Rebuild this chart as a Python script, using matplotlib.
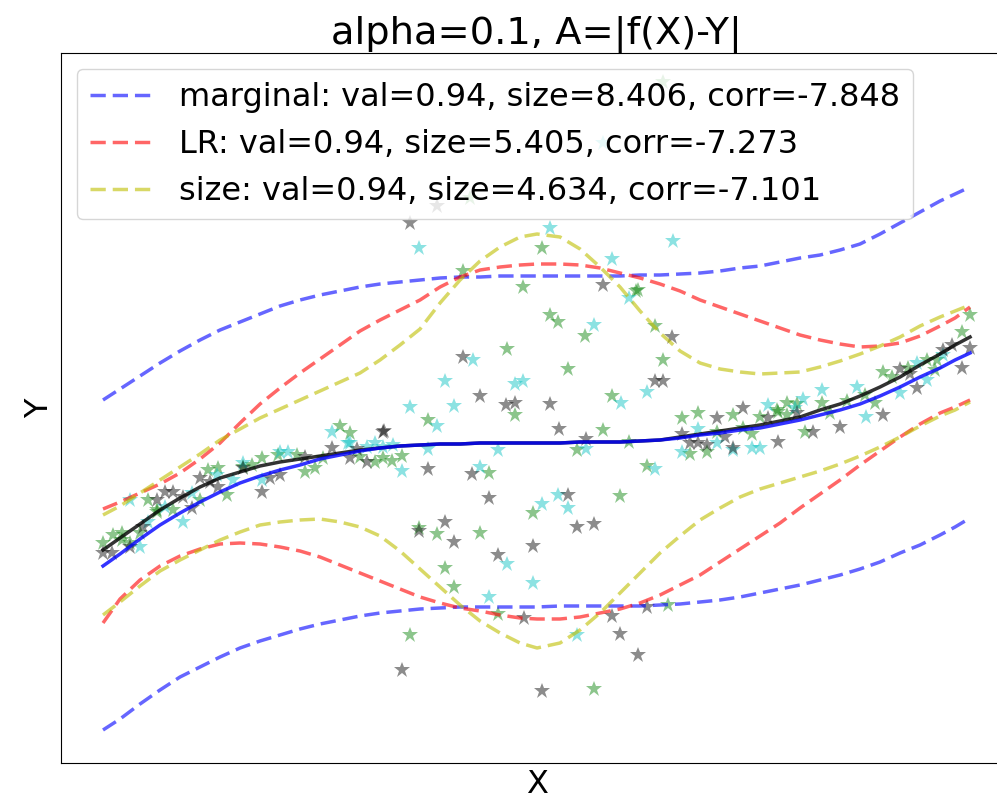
import matplotlib
matplotlib.use('Agg')
import matplotlib.pyplot as plt

# x grid the bands / fits were read at
x_grid = [-4.34, -4.17, -3.97, -3.77, -3.57, -3.37, -3.17, -2.97, -2.77, -2.57, -2.37, -2.17,
          -1.97, -1.77, -1.57, -1.37, -1.17, -0.97, -0.77, -0.57, -0.37, -0.17, 0.00, 0.23,
          0.43, 0.63, 0.83, 1.03, 1.23, 1.43, 1.63, 1.83, 2.03, 2.23, 2.43, 2.63, 2.83, 3.03,
          3.23, 3.43, 3.63, 3.83, 4.03, 4.18, 4.33]

marg_up = [0.43, 0.54, 0.67, 0.80, 0.92, 1.03, 1.13, 1.21, 1.29, 1.37, 1.43, 1.48,
           1.52, 1.56, 1.59, 1.61, 1.63, 1.65, 1.66, 1.66, 1.67, 1.67, 1.67, 1.67,
           1.67, 1.67, 1.67, 1.68, 1.68, 1.69, 1.70, 1.72, 1.75, 1.77, 1.81, 1.85, 1.88, 1.93,
           1.99, 2.09, 2.20, 2.31, 2.42, 2.49, 2.56]
marg_lo = [-2.87, -2.76, -2.61, -2.47, -2.34, -2.24, -2.14, -2.05, -1.98, -1.92, -1.86, -1.81,
           -1.77, -1.73, -1.70, -1.68, -1.66, -1.65, -1.64, -1.64, -1.64, -1.64, -1.64, -1.63,
           -1.63, -1.63, -1.63, -1.63, -1.62, -1.61, -1.59, -1.57, -1.54, -1.50, -1.46, -1.42,
           -1.37, -1.32, -1.26, -1.19, -1.10, -1.02, -0.92, -0.84, -0.75]
lr_up = [-0.66, -0.59, -0.50, -0.41, -0.30, -0.16, 0.00, 0.20, 0.39, 0.55, 0.70, 0.84,
         0.98, 1.12, 1.23, 1.33, 1.43, 1.56, 1.66, 1.73, 1.76, 1.78, 1.79, 1.79,
         1.78, 1.75, 1.70, 1.65, 1.59, 1.52, 1.43, 1.36, 1.29, 1.22, 1.15, 1.08, 1.03, 0.99,
         0.96, 0.97, 1.00, 1.07, 1.17, 1.25, 1.36]
lr_lo = [-1.80, -1.56, -1.37, -1.23, -1.13, -1.06, -1.01, -1.00, -1.01, -1.04, -1.08, -1.14,
         -1.22, -1.30, -1.38, -1.46, -1.54, -1.60, -1.65, -1.68, -1.72, -1.75, -1.76, -1.76,
         -1.74, -1.70, -1.66, -1.60, -1.52, -1.42, -1.32, -1.19, -1.06, -0.93, -0.80, -0.65,
         -0.51, -0.37, -0.22, -0.08, 0.06, 0.19, 0.30, 0.36, 0.43]
size_up = [-0.72, -0.63, -0.50, -0.37, -0.24, -0.11, 0.03, 0.14, 0.25, 0.34, 0.43, 0.52,
           0.61, 0.70, 0.83, 0.98, 1.14, 1.40, 1.63, 1.82, 1.96, 2.06, 2.09, 2.06,
           1.94, 1.76, 1.56, 1.32, 1.10, 0.92, 0.80, 0.74, 0.71, 0.69, 0.70, 0.71, 0.76, 0.82,
           0.89, 0.97, 1.06, 1.17, 1.26, 1.32, 1.38]
size_lo = [-1.72, -1.59, -1.43, -1.28, -1.17, -1.07, -0.97, -0.89, -0.82, -0.79, -0.77, -0.76,
           -0.79, -0.84, -0.93, -1.08, -1.26, -1.44, -1.62, -1.78, -1.90, -2.00, -2.05, -2.00,
           -1.87, -1.70, -1.50, -1.30, -1.10, -0.93, -0.77, -0.65, -0.54, -0.46, -0.40, -0.34,
           -0.28, -0.21, -0.13, -0.04, 0.06, 0.17, 0.27, 0.33, 0.41]
fit_blue = [-1.23, -1.11, -0.96, -0.82, -0.70, -0.59, -0.49, -0.40, -0.33, -0.27, -0.22, -0.16,
            -0.12, -0.08, -0.05, -0.03, -0.02, -0.01, -0.01, 0.00, 0.00, 0.00, 0.00, 0.00,
            0.01, 0.01, 0.01, 0.02, 0.03, 0.05, 0.08, 0.10, 0.13, 0.15, 0.19, 0.23, 0.28, 0.33,
            0.39, 0.47, 0.56, 0.66, 0.75, 0.83, 0.90]
fit_black = [-1.07, -0.95, -0.81, -0.67, -0.55, -0.44, -0.35, -0.29, -0.23, -0.19, -0.16, -0.13,
             -0.10, -0.07, -0.05, -0.03, -0.02, -0.01, -0.01, 0.00, 0.00, 0.00, 0.00, 0.00,
             0.01, 0.01, 0.01, 0.02, 0.03, 0.06, 0.09, 0.12, 0.15, 0.18, 0.22, 0.26, 0.33, 0.39,
             0.47, 0.56, 0.66, 0.78, 0.89, 0.98, 1.06]

# scattered samples, one list per colour
green_x = [-0.67, 1.26, 0.05, -0.74, -0.14, 1.01, 0.13, 0.21, 0.48, 1.18, -0.30, 0.31, 1.26,
           -0.22, 0.75, -1.09, 0.66, 0.40, 0.92, -0.48, 1.10, -0.04, 0.83, -1.18, -1.00, -0.57,
           -0.92, -0.83, -0.39, 1.31, -1.27, 0.57,
           -1.97, -1.87, -1.62, -1.54, -1.45, -1.35,
           -4.34, -4.24, -4.15, -4.07, -3.97, -3.89, -3.80, -3.64, -3.37, -3.29, -3.19, -3.10,
           -2.94, -2.85, -2.75, -2.59, -2.40, -2.32, -2.22, -2.14,
           1.45, 1.61, 1.53, 1.70, 1.80, 1.96, 2.15, 2.23, 2.41, 2.50, 2.60, 2.68, 2.85, 2.93,
           3.10, 3.28, 3.38, 3.46, 3.55, 3.71, 3.90, 4.00, 3.98, 4.25, 4.33, 2.50,
           -4.15, -3.80, -1.77, 0.99, 2.06, 2.40]
green_y = [2.45, 3.61, 1.95, 1.72, 1.56, 1.53, 1.28, 1.21, 1.07, 1.17, 0.94, 0.74, 0.83,
           0.28, 0.47, 0.23, 0.13, -0.07, 0.01, -0.30, -0.23, -0.70, -0.53, -0.85, -0.91, -0.90,
           -1.25, -1.44, -1.71, -1.62, -1.92, -2.46,
           0.17, 0.10, -0.19, -0.15, -0.18, -0.13,
           -1.00, -0.92, -0.90, -1.00, -0.90, -0.57, -0.67, -0.67, -0.57, -0.27, -0.25, -0.52,
           -0.24, -0.22, -0.15, -0.12, -0.12, -0.29, -0.25, -0.15,
           0.25, 0.30, -0.11, -0.09, 0.11, 0.28, 0.09, 0.26, 0.31, 0.40, 0.39, 0.11, 0.40, 0.30,
           0.42, 0.48, 0.40, 0.71, 0.66, 0.75, 0.83, 0.83, 0.73, 1.11, 1.28, 0.28,
           -0.97, -0.69, -0.14, 1.52, 0.15, 0.33]

cyan_x = [0.66, 1.36, -1.18, 0.13, 0.75, 0.92, 0.57, -0.64, -0.92, -0.22, -0.14, 1.10, -1.27,
          -0.83, 0.84, -1.00, 0.49, -1.09, -0.39, -0.57, 1.18, 0.21, 0.31, 0.05, -0.30, -0.04,
          -0.48, 0.40,
          -1.87, -1.70, -1.62, -1.35, -3.97, -3.89, -4.07, -3.72, -3.54, -3.45, -3.20, -3.04,
          -2.94, -2.75, -2.57, -2.49, -2.05, -1.89, -1.44,
          1.61, 1.45, 1.80, 1.96, 2.15, 2.31, 2.58, 2.66, 2.85, 3.20, 3.29, 3.80, 4.06, 3.90,
          2.23, 3.63, -1.54]
cyan_y = [3.00, 2.02, 1.95, 2.15, 1.84, 1.45, 1.18, 0.83, 0.62, 0.59, 0.62, 0.51, 0.36,
          0.37, 0.40, 0.17, -0.06, -0.06, -0.07, -0.24, -0.26, -0.52, -0.65, -0.61, -1.21, -1.40,
          -1.54, -1.92,
          0.00, -0.04, 0.00, -0.28, -1.04, -0.79, -0.57, -0.64, -0.79, -0.50, -0.32, -0.37,
          -0.20, -0.37, -0.09, -0.09, 0.11, 0.00, -0.02,
          0.14, -0.09, 0.00, -0.07, -0.05, 0.38, 0.35, 0.44, 0.53, 0.56, 0.26, 0.80, 0.88, 0.63,
          -0.05, 0.50, -0.04]

gray_x = [-1.00, -1.27, 0.66, -0.74, 1.18, 1.26, -0.57, -0.31, -0.22, 0.13, -1.53, 0.22, 0.49,
          -1.09, -0.65, -0.48, 0.31, -0.92, -1.18, -0.83, 0.40, 0.57, -0.04, -0.39, -0.13, 0.75,
          1.10, 0.83, 1.01, -1.35, 0.05, 1.35,
          -1.80, -1.70, -1.87, -4.34, -4.25, -4.07, -3.94, -3.80, -3.72, -3.64, -3.54, -3.45,
          -3.37, -3.27, -3.19, -2.94, -2.75, -2.67, -2.32, -1.54, -2.05,
          1.45, 1.61, 1.70, 1.80, 1.96, 2.06, 2.31, 2.41, 2.60, 2.76, 3.03, 3.46, 3.63, 3.80,
          4.06, 4.15, 4.25, 4.33, 3.73, -2.57, 1.53, 1.88]
gray_y = [2.37, 2.20, 1.58, 0.86, 0.62, 0.62, 0.47, 0.38, 0.40, 0.39, 0.12, 0.14, 0.04,
          -0.26, -0.31, -0.55, -0.52, -0.79, -0.88, -0.99, -0.84, -0.81, -1.03, -1.12, -1.75, -1.73,
          -1.64, -1.91, -2.12, -2.27, -2.48, 1.06,
          -0.06, -0.19, -0.15, -1.10, -1.10, -1.04, -0.84, -0.57, -0.49, -0.49, -0.54, -0.65,
          -0.35, -0.39, -0.44, -0.25, -0.49, -0.35, -0.14, 0.11, -0.05,
          0.09, 0.00, -0.02, 0.25, -0.05, 0.35, 0.25, 0.01, 0.30, 0.11, 0.16, 0.28, 0.74, 0.55,
          0.93, 0.98, 0.75, 0.95, 0.69, -0.32, 0.00, 0.06]

labels = ['marginal: val=0.94, size=8.406, corr=-7.848',
          'LR: val=0.94, size=5.405, corr=-7.273',
          'size: val=0.94, size=4.634, corr=-7.101']

plt.rcParams['font.size'] = 23
fig = plt.figure(figsize=(9.97, 8.08), dpi=100)
ax = fig.add_axes([0.0612, 0.0557, 0.9539, 0.8787])

# scatter of the samples
star = dict(alpha=0.45, markersize=12, markeredgewidth=0)
ax.plot(green_x, green_y, 'g*', **star)
ax.plot(cyan_x, cyan_y, 'c*', **star)
ax.plot(gray_x, gray_y, 'k*', **star)

# fits
ax.plot(x_grid, fit_black, 'k-', lw=2.5, alpha=0.8)
ax.plot(x_grid, fit_blue, 'b-', lw=2.5, alpha=0.8)

# prediction bands
dash = (0, (4.4, 2))
ax.plot(x_grid, marg_up, color='b', ls=dash, lw=2.5, alpha=0.6, label=labels[0])
ax.plot(x_grid, marg_lo, color='b', ls=dash, lw=2.5, alpha=0.6)
ax.plot(x_grid, lr_up, color='r', ls=dash, lw=2.5, alpha=0.6, label=labels[1])
ax.plot(x_grid, lr_lo, color='r', ls=dash, lw=2.5, alpha=0.6)
ax.plot(x_grid, size_up, color='y', ls=dash, lw=2.5, alpha=0.6, label=labels[2])
ax.plot(x_grid, size_lo, color='y', ls=dash, lw=2.5, alpha=0.6)

ax.set_xlim(-4.76, 4.75)
ax.set_ylim(-3.20, 3.90)
ax.set_xticks([])
ax.set_yticks([])
ax.set_xlabel('X')
ax.set_ylabel('Y')
ax.set_title('alpha=0.1, A=|f(X)-Y|', fontsize='large')
ax.legend(loc='upper left')

fig.savefig('out.png', dpi=100)
